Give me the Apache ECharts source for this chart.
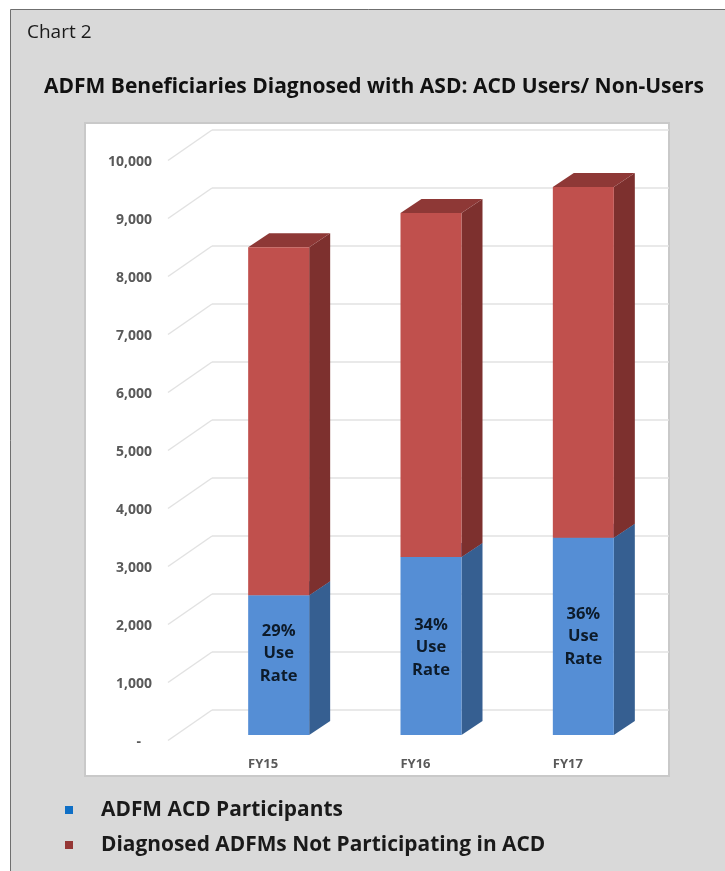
<!DOCTYPE html>
<html><head><meta charset="utf-8">
<style>html,body{margin:0;padding:0;background:#fff}#c{width:725px;height:871px}</style>
<script src="https://cdn.jsdelivr.net/npm/echarts@6/dist/echarts.min.js"></script></head>
<body><div id="c"></div>
<script>
const categories = ['FY15', 'FY16', 'FY17'];
const participants = [2410, 3070, 3400];
const nonParticipants = [6000, 5930, 6050];
const yTicks = [0, 1000, 2000, 3000, 4000, 5000, 6000, 7000, 8000, 9000, 10000];
const tickLabels = ['-   ', '1,000', '2,000', '3,000', '4,000', '5,000', '6,000', '7,000', '8,000', '9,000', '10,000'];
const useRateLabels = ['29%\nUse\nRate', '34%\nUse\nRate', '36%\nUse\nRate'];
const useRateLabelValues = [1405, 1510, 1700];
const seriesNames = ['ADFM ACD Participants', 'Diagnosed ADFMs Not Participating in ACD'];
const titleText = 'ADFM Beneficiaries Diagnosed with ASD: ACD Users/ Non-Users';
const captionText = 'Chart 2';

const FONT = '"Open Sans", Lato, sans-serif';
const BAR_W = 61, SHIFT_X = 15.5, LIFT_Y = 5.5, SIDE_X = 21, SIDE_Y = 14;

function prism(faces) {
  return function (params, api) {
    const cat = api.value(0);
    const a = api.coord([cat, api.value(1)]);
    const b = api.coord([cat, api.value(2)]);
    const l = a[0] + SHIFT_X - BAR_W / 2, r = l + BAR_W;
    const y0 = a[1] - LIFT_Y, y1 = b[1] - LIFT_Y;
    const poly = (pts, fill) => ({ type: 'polygon', shape: { points: pts }, style: { fill: fill } });
    return {
      type: 'group',
      children: [
        poly([[r, y0], [r + SIDE_X, y0 - SIDE_Y], [r + SIDE_X, y1 - SIDE_Y], [r, y1]], faces.side),
        poly([[l, y1], [r, y1], [r + SIDE_X, y1 - SIDE_Y], [l + SIDE_X, y1 - SIDE_Y]], faces.top),
        poly([[l, y0], [r, y0], [r, y1], [l, y1]], faces.front)
      ]
    };
  };
}

const blueData = categories.map((c, i) => [i, 0, participants[i]]);
const redData = categories.map((c, i) => [i, participants[i], participants[i] + nonParticipants[i]]);

const option = {
  animation: false,
  backgroundColor: '#ffffff',
  textStyle: { fontFamily: FONT },
  title: [
    { text: captionText, left: 27, top: 23.5, padding: 0, textStyle: { fontFamily: FONT, fontWeight: 'normal', fontSize: 19, color: '#1a1a1a' } },
    { text: titleText, left: 44, top: 77, padding: 0, textStyle: { fontFamily: FONT, fontWeight: 'bold', fontSize: 21, color: '#111111' } }
  ],
  graphic: [
    { type: 'rect', z: -10, silent: true, shape: { x: 10.5, y: 9.5, width: 800, height: 900 }, style: { fill: '#d9d9d9', stroke: '#6f6f6f', lineWidth: 1 } },
    { type: 'rect', z: -9, silent: true, shape: { x: 85, y: 123, width: 584, height: 653 }, style: { fill: '#ffffff', stroke: '#c9c9c9', lineWidth: 2 } }
  ],
  legend: {
    orient: 'vertical', left: 60, top: 793, itemWidth: 8, itemHeight: 8, itemGap: 11,
    textStyle: { fontFamily: FONT, fontWeight: 'bold', fontSize: 20.9, color: '#1a1a1a', lineHeight: 24, padding: [0, 0, 0, 23] },
    data: [
      { name: seriesNames[0], icon: 'rect', itemStyle: { color: '#0f6fc6' } },
      { name: seriesNames[1], icon: 'rect', itemStyle: { color: '#953735' } }
    ]
  },
  grid: [
    { left: 187, right: 81, top: 160.5, bottom: 130.5 },
    { left: 212, right: 56, top: 130, bottom: 161 }
  ],
  xAxis: [
    { type: 'category', gridIndex: 0, data: categories, axisLine: { show: false }, axisTick: { show: false },
      axisLabel: { fontFamily: FONT, fontWeight: 'bold', fontSize: 13, color: '#595959', margin: 17 } },
    { type: 'category', gridIndex: 1, data: categories, show: false }
  ],
  yAxis: [
    { type: 'value', gridIndex: 0, min: 0, max: 10000, interval: 1000, axisLine: { show: false }, axisTick: { show: false }, splitLine: { show: false },
      axisLabel: { fontFamily: FONT, fontWeight: 'bold', fontSize: 14, color: '#595959', margin: 35, verticalAlign: 'top', lineHeight: 4, formatter: (v) => tickLabels[yTicks.indexOf(v)] } },
    { type: 'value', gridIndex: 1, min: 0, max: 10000, interval: 1000, axisLine: { show: false }, axisTick: { show: false }, axisLabel: { show: false },
      splitLine: { show: true, lineStyle: { color: '#e2e2e2', width: 1.5 } } }
  ],
  series: [
    { type: 'custom', name: 'floor', xAxisIndex: 0, yAxisIndex: 0, silent: true, z: 1, data: yTicks.map(v => [0, v]),
      encode: { x: 0, y: 1 },
      renderItem: (params, api) => {
        const p = api.coord([0, api.value(1)]);
        const x0 = params.coordSys.x - 19;
        return { type: 'line', shape: { x1: x0, y1: p[1], x2: x0 + 44, y2: p[1] - 30.5 }, style: { stroke: '#e2e2e2', lineWidth: 1.5 } };
      } },
    { type: 'custom', name: seriesNames[0], xAxisIndex: 0, yAxisIndex: 0, z: 2, data: blueData, encode: { x: 0, y: [1, 2] },
      itemStyle: { color: '#558ed5' },
      renderItem: prism({ front: '#558ed5', side: '#365f91', top: '#3f6ea8' }) },
    { type: 'custom', name: seriesNames[1], xAxisIndex: 0, yAxisIndex: 0, z: 3, data: redData, encode: { x: 0, y: [1, 2] },
      itemStyle: { color: '#c0504d' },
      renderItem: prism({ front: '#c0504d', side: '#7d302e', top: '#8e3836' }) },
    { type: 'custom', name: 'rates', xAxisIndex: 0, yAxisIndex: 0, z: 4, silent: true,
      data: categories.map((c, i) => [i, useRateLabelValues[i], useRateLabels[i]]), encode: { x: 0, y: 1 },
      renderItem: (params, api) => {
        const p = api.coord([api.value(0), api.value(1)]);
        return { type: 'text', style: {
          x: p[0] + SHIFT_X, y: p[1] - LIFT_Y, text: useRateLabels[params.dataIndex], align: 'center', verticalAlign: 'middle',
          fontFamily: FONT, fontWeight: 'bold', fontSize: 16.5, lineHeight: 22.5, fill: '#0d1b2a' } };
      } }
  ]
};
const chart = echarts.init(document.getElementById('c'), null, { renderer: 'canvas' });
chart.setOption(option);
</script></body></html>
